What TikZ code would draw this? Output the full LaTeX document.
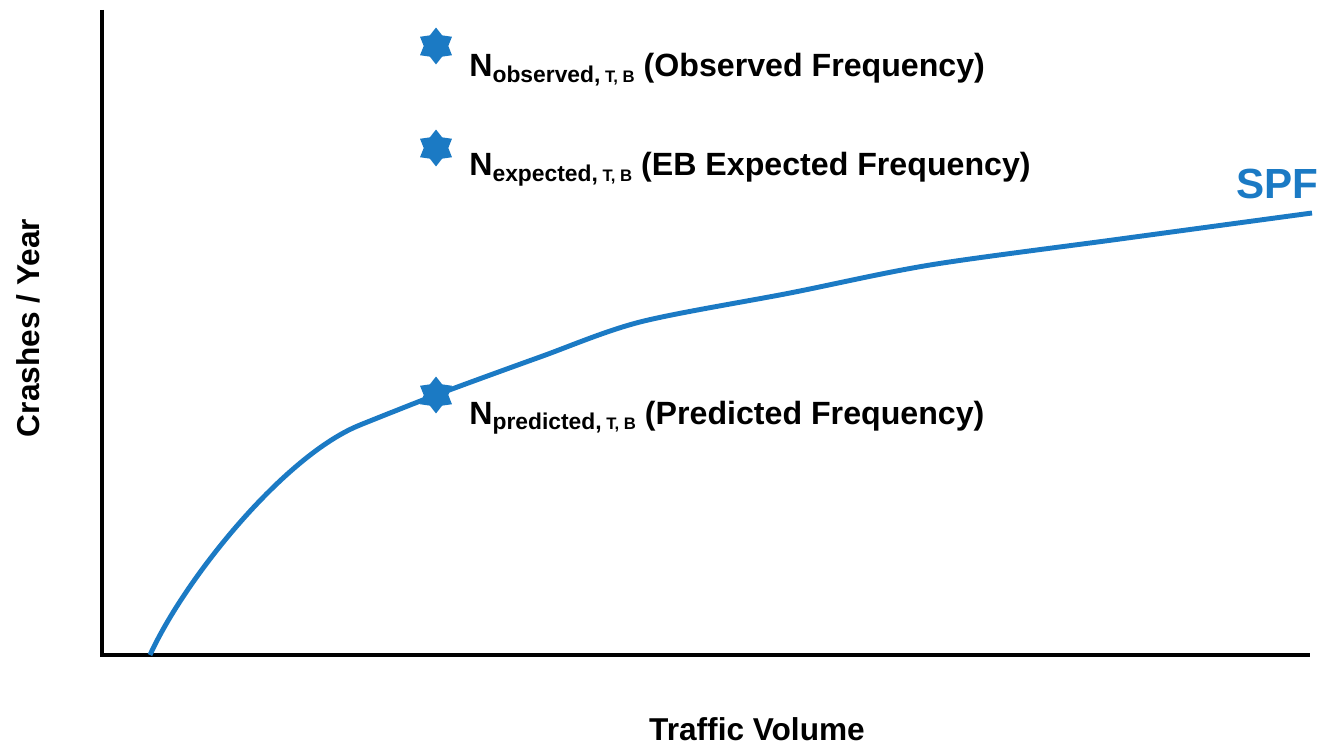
\documentclass[tikz,border=0pt]{standalone}
\usepackage{fontspec}
\setmainfont{Liberation Sans}
\usetikzlibrary{shapes.geometric}

\definecolor{SPFblue}{RGB}{27,122,196}
\newcommand{\Nsub}[1]{N\raisebox{-3.4pt}{{\fontsize{13}{13}\selectfont #1,}\fontsize{9.5}{9.5}\selectfont\ T, B}}

\begin{document}
\begin{tikzpicture}[x=0.02cm, y=-0.02cm]
	\tikzstyle{Axis}	= [line width=1.8pt, black]
	\tikzstyle{Curve}	= [line width=2.8pt, SPFblue]
	\tikzstyle{Star}	= [star, star points=6, star point ratio=1.5, fill=SPFblue, minimum size=21pt, inner sep=0pt]
	\tikzstyle{Lbl}		= [font=\fontsize{18.3}{18.3}\selectfont\bfseries, anchor=base west, inner sep=0pt]
	\tikzstyle{AxLbl}	= [font=\fontsize{18}{18}\selectfont\bfseries, inner sep=0pt]

	\useasboundingbox (0,0) rectangle (1322,746);

	% axes
	\coordinate (top) at (102,10);
	\coordinate (origin) at (102,655);
	\coordinate (right) at (1310,655);
	\draw [Axis] (top) -- (origin) -- (right);

	% safety performance function
	\draw [Curve] (150,655) .. controls (185,578) and (285,455) .. (360,425)
		plot [smooth, tension=0.5] coordinates {(360,425) (436,395) (540,357) (640,322) (790,293) (930,265) (1120,239) (1312,213)};
	\node (spf) at (1236,199) [anchor=base west, inner sep=0pt, font=\fontsize{24}{24}\selectfont\bfseries, text=SPFblue] {SPF};

	% frequencies
	\node (obs) at (436,46) [Star] {};
	\node (expd) at (436,148) [Star] {};
	\node (pred) at (436,395) [Star] {};

	\node (obsLbl) at (469,77) [Lbl] {\Nsub{observed} (Observed Frequency)};
	\node (expdLbl) at (469,176) [Lbl] {\Nsub{expected} (EB Expected Frequency)};
	\node (predLbl) at (469,424) [Lbl] {\Nsub{predicted} (Predicted Frequency)};

	% axis labels
	\node (yLbl) at (28,328) [AxLbl, rotate=90] {Crashes / Year};
	\node (xLbl) at (757,740) [AxLbl, anchor=base] {Traffic Volume};
\end{tikzpicture}
\end{document}
